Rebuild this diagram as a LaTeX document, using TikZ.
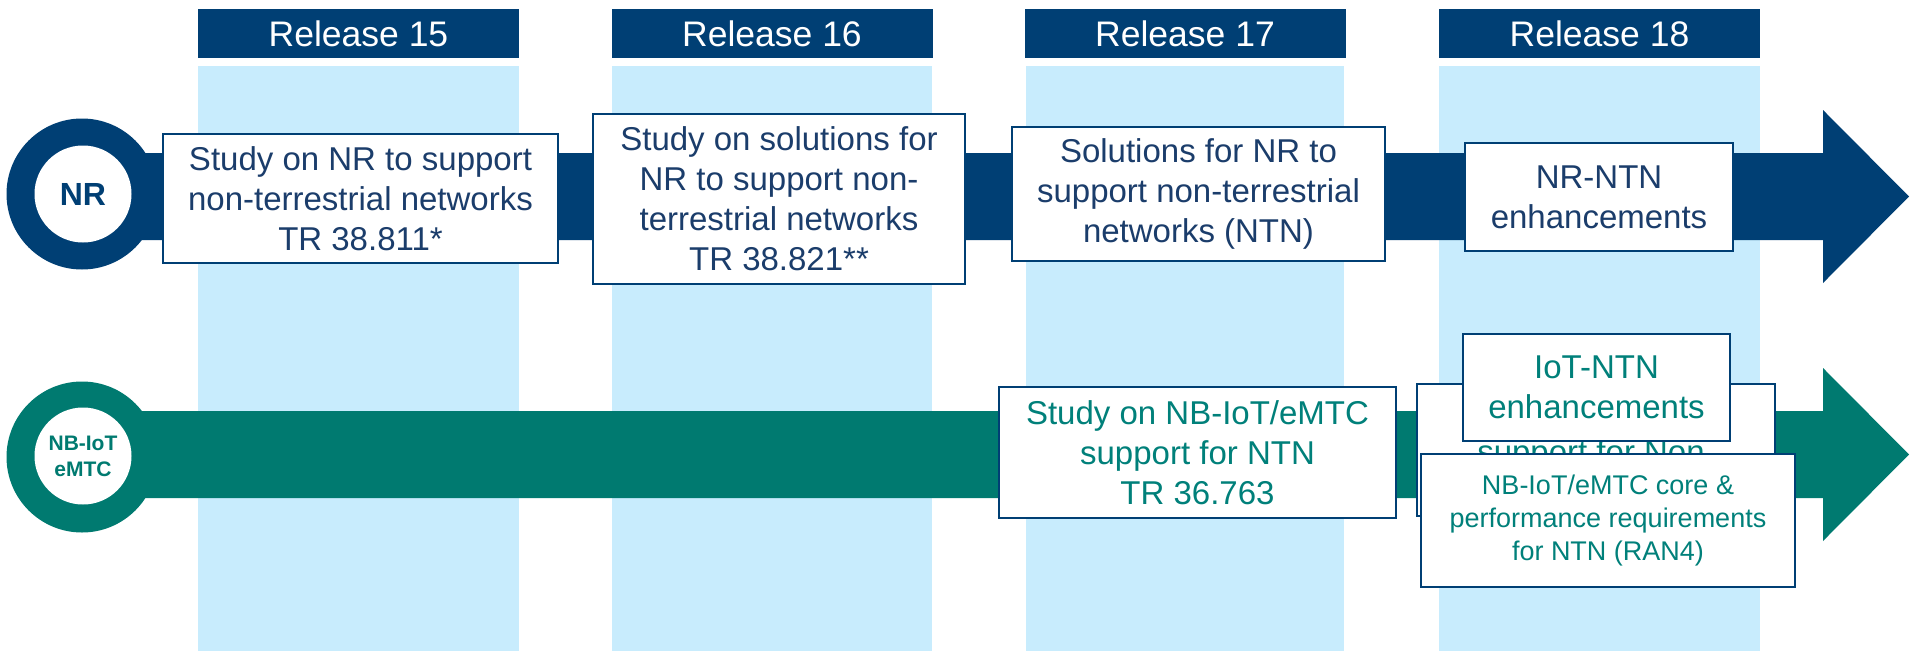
\documentclass[tikz,border=0pt]{standalone}
\usepackage{fontspec}
\setmainfont{Liberation Sans}
\definecolor{navy}{HTML}{003F74}
\definecolor{navytext}{HTML}{1B3D6B}
\definecolor{ntnteal}{HTML}{007A70}
\definecolor{tealtext}{HTML}{00807A}
\definecolor{colbg}{HTML}{C8ECFD}
\begin{document}
\begin{tikzpicture}[x=1pt,y=-1pt,
  header/.style={rectangle, fill=navy, text=white, inner sep=0pt,
    minimum width=321pt, minimum height=49pt,
    font=\fontsize{35.5}{40}\selectfont},
  nrbox/.style={rectangle, draw=navy, line width=2.6pt, fill=white,
    inner sep=0pt, align=center, text=navytext,
    font=\fontsize{33}{40}\selectfont},
  tealbox/.style={nrbox, text=tealtext},
  ringouter/.style={circle, inner sep=0pt, minimum size=151pt},
  ringinner/.style={circle, fill=white, inner sep=0pt, minimum size=97pt, align=center}
]
\useasboundingbox (0,0) rectangle (1911,651);
\fill[white] (0,0) rectangle (1911,651);

% release columns
\fill[colbg] (198,66) rectangle (519,651);
\fill[colbg] (612,66) rectangle (932,651);
\fill[colbg] (1026,66) rectangle (1344,651);
\fill[colbg] (1439,66) rectangle (1760,651);

% release headers
\node[header] (h15) at (358.5,33.5) {Release 15};
\node[header] (h16) at (772,33.5) {Release 16};
\node[header] (h17) at (1185,33.5) {Release 17};
\node[header] (h18) at (1599.5,33.5) {Release 18};

% timeline arrows
\fill[navy] (82,153) -- (1823,153) -- (1823,110) -- (1909,196.5)
  -- (1823,283) -- (1823,240) -- (82,240) -- cycle;
\fill[ntnteal] (82,411) -- (1823,411) -- (1823,368) -- (1909,454.5)
  -- (1823,541) -- (1823,498) -- (82,498) -- cycle;

% track rings
\node[ringouter, fill=navy] (nrring) at (82,194) {};
\node[ringinner, text=navy, font=\fontsize{32}{36}\selectfont\bfseries] (nrlabel) at (83,194) {NR};
\node[ringouter, fill=ntnteal] (iotring) at (82,457) {};
\node[ringinner, text=ntnteal, font=\fontsize{21}{26}\selectfont\bfseries] (iotlabel) at (83,456) {NB-IoT\\eMTC};

% NR work items
\node[nrbox, minimum width=395pt, minimum height=129pt] (b15) at (360.5,198.5)
  {Study on NR to support\\non-terrestrial networks\\TR 38.811*};
\node[nrbox, minimum width=372pt, minimum height=170pt] (b16) at (779,199)
  {Study on solutions for\\NR to support non-\\terrestrial networks\\TR 38.821**};
\node[nrbox, minimum width=373pt, minimum height=134pt] (b17) at (1198.5,194)
  {Solutions for NR to\\support non-terrestrial\\networks (NTN)};
\node[nrbox, minimum width=268pt, minimum height=108pt] (b18) at (1599,197)
  {NR-NTN\\enhancements};

% NB-IoT / eMTC work items
\node[tealbox, minimum width=397pt, minimum height=131pt] (t17) at (1197.5,452.5)
  {Study on NB-IoT/eMTC\\support for NTN\\TR 36.763};
\node[tealbox, minimum width=358pt, minimum height=132pt] (t18base) at (1596,450) {};
\node[text=tealtext, font=\fontsize{33}{40}\selectfont, inner sep=0pt, anchor=base]
  (t18basetxt) at (1591,463) {support for Non};
\node[tealbox, minimum width=267pt, minimum height=107pt] (t18enh) at (1596.5,387.5)
  {IoT-NTN\\enhancements};
\node[tealbox, minimum width=374pt, minimum height=133pt,
  font=\fontsize{27}{33}\selectfont] (t18ran4) at (1608,520.5)
  {NB-IoT/eMTC core \&\\performance requirements\\for NTN (RAN4)};
\end{tikzpicture}
\end{document}
